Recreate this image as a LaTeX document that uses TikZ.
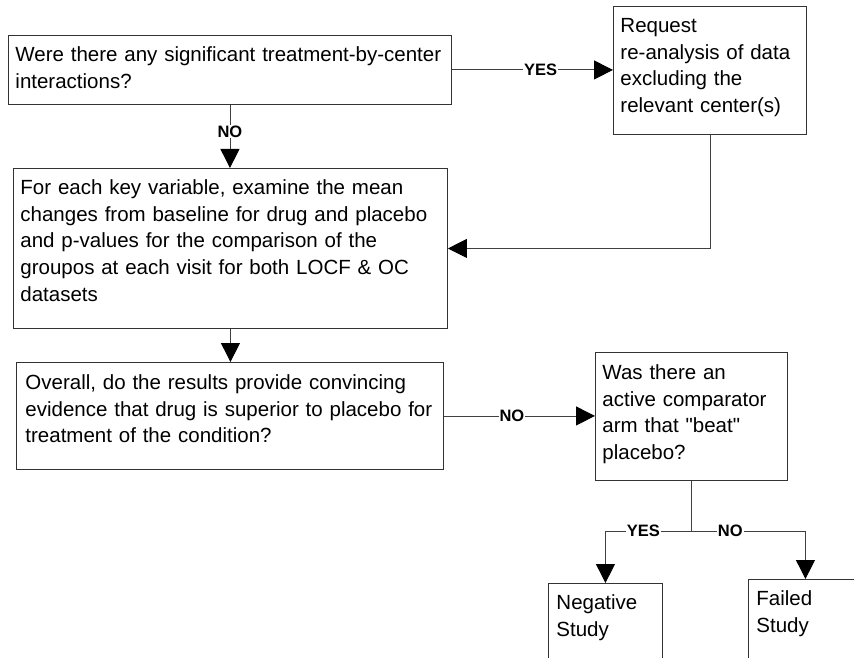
\documentclass[tikz,border=0pt]{standalone}
\usepackage{fontspec}
\usepackage{tikz}
\usetikzlibrary{positioning,arrows.meta,calc}
\newfontfamily\arialfont{Liberation Sans}
\newcommand{\boxfont}{\arialfont\fontsize{20.5}{26.7}\selectfont}
\newcommand{\tagfont}{\arialfont\bfseries\fontsize{16.5}{18}\selectfont}
\tikzset{
    block/.style = {
        draw=black!80,
        shape=rectangle,
        anchor=north west,
        align=left,
        inner xsep=7pt,
        inner ysep=0pt,
        line width=0.9pt,
        font=\boxfont
    },
    tag/.style = {
        fill=white,
        inner xsep=1pt,
        inner ysep=1pt,
        font=\tagfont
    },
    link/.style = {
        draw=black!75,
        line width=0.9pt
    },
    >={Triangle[length=19pt,width=19pt,color=black]},
}
\begin{document}
\begin{tikzpicture}[x=1pt,y=-1pt]
                \useasboundingbox (0,0) rectangle (854,658);
                \clip (0,0) rectangle (854,658);

                \node[block, text width=429pt, text height=26pt, text depth=43pt] (inter) at (8,35)
                    {Were there any significant treatment-by-center\\interactions?};
                \node[block, text width=179pt, text height=26pt, text depth=102pt] (reanal) at (613,6)
                    {Request\\re-analysis of data\\excluding the\\relevant center(s)};
                \node[block, text width=420pt, text height=26pt, text depth=134pt] (examine) at (13,168)
                    {For each key variable, examine the mean\\changes from baseline for drug and placebo\\and p-values for the comparison of the\\groupos at each visit for both LOCF \& OC\\datasets};
                \node[block, inner xsep=9pt, text width=409pt, text height=27pt, text depth=80pt] (overall) at (16,362)
                    {Overall, do the results provide convincing\\evidence that drug is superior to placebo for\\treatment of the condition?};
                \node[block, text width=178pt, text height=27pt, text depth=101pt] (comp) at (595,352)
                    {Was there an\\active comparator\\arm that "beat"\\placebo?};
                \node[block, inner xsep=8pt, text width=98pt, text height=26pt, text depth=100pt] (neg) at (548,583)
                    {Negative\\Study};
                \node[block, inner xsep=8pt, text width=98pt, text height=26pt, text depth=100pt] (failed) at (748,579)
                    {Failed\\Study};
                \coordinate (split) at (comp.south |- 0,531);

                \path[link, ->] (inter.east) -- (inter.east -| reanal.west) node[tag, pos=0.55] {YES};
                \path[link, ->] (inter.south) -- (inter.south |- examine.north) node[tag, pos=0.42] {NO};
                \path[link, ->] (reanal.south) |- (examine.east);
                \path[link, ->] (examine.south) -- (examine.south |- overall.north);
                \path[link, ->] (overall.east) -- (overall.east -| comp.west) node[tag, pos=0.45] {NO};
                \path[link] (comp.south) -- (split);
                \path[link, ->] (split) -| (neg.north) node[tag, pos=0.28] {YES};
                \path[link, ->] (split) -| (failed.north) node[tag, pos=0.17] {NO};
            \end{tikzpicture}
\end{document}
